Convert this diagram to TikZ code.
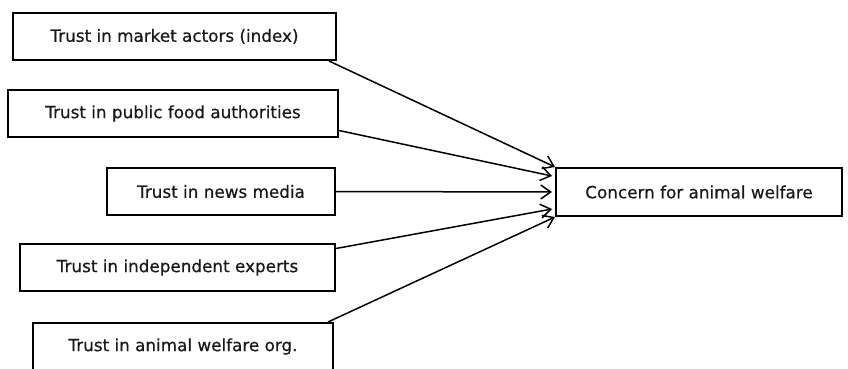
\documentclass[tikz,border=0pt]{standalone}
\usepackage{fontspec}
\setmainfont{DejaVu Sans}
\newfontfamily\boxfont{DejaVu Sans}[FakeBold=0.5]
\usetikzlibrary{arrows.meta}
\begin{document}
\begin{tikzpicture}[x=1pt,y=1pt,
  box/.style={draw=black,line width=2pt,minimum height=47pt,inner sep=0pt,font=\boxfont\fontsize{16.8}{18}\selectfont,text=black!90},
  conn/.style={line width=1.5pt,-{Straight Barb[length=10pt,width=14pt,line width=1.5pt]}}]
\useasboundingbox (0,0) rectangle (848,368);
\clip (0,0) rectangle (848,368);
\fill[white] (0,0) rectangle (848,368);
\node[box,minimum width=323pt] (b1) at (174.5,331.5) {Trust in market actors (index)};
\node[box,minimum width=330pt] (b2) at (173,254.5) {Trust in public food authorities};
\node[box,minimum width=228pt] (b3) at (221,176.5) {Trust in news media};
\node[box,minimum width=315pt] (b4) at (177.5,100.5) {Trust in independent experts};
\node[box,minimum width=300pt] (b5) at (183,21.5) {Trust in animal welfare org.};
\node[box,minimum width=286pt,minimum height=48pt] (t) at (699,176) {Concern for animal welfare};
\draw[conn] ([xshift=-8pt]b1.south east) -- (t.north west);
\draw[conn] ([yshift=-17pt]b2.east) -- ([xshift=-3pt,yshift=16pt]t.west);
\draw[conn] (b3.east) -- ([xshift=-3pt]t.west);
\draw[conn] ([yshift=19pt]b4.east) -- ([xshift=-3pt,yshift=-17pt]t.west);
\draw[conn] ([xshift=-6pt]b5.north east) -- (t.south west);
\end{tikzpicture}
\end{document}
